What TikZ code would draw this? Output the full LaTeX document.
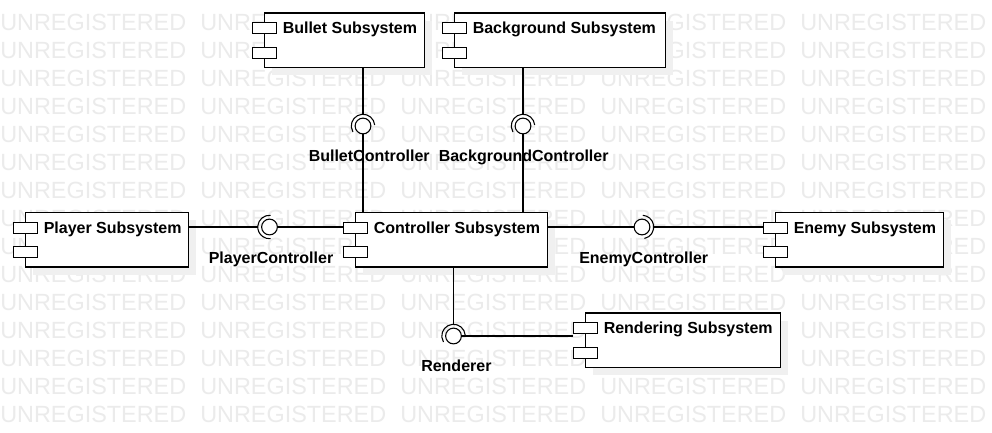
\documentclass[tikz,border=0pt]{standalone}
\usepackage{fontspec}
\setmainfont{Liberation Sans}
\usetikzlibrary{shadows}
\newcommand\mycomp[5]{%
  \node[box, minimum width=#4*0.75pt] (#1) at (#2,-#3) {};
  \node[icon] (#1i1) at ([shift={(0.3,-16)}]#1.north west) {};
  \node[icon] (#1i2) at ([shift={(0.3,-40.5)}]#1.north west) {};
  \node[ctext] (#1t) at ([shift={(18.5,-21.5)}]#1.north west) {#5};
}
\begin{document}
\begin{tikzpicture}[x=0.75pt,y=0.75pt,
  box/.style={draw, fill=white, anchor=north west, inner sep=0pt, minimum height=40.9pt, line width=0.9pt,
    general shadow={fill=black!6, shadow xshift=5.25pt, shadow yshift=-6pt}},
  icon/.style={draw, fill=white, inner sep=0pt, minimum width=18.3pt, minimum height=8.25pt, line width=0.9pt},
  ctext/.style={anchor=base west, inner sep=0pt, font=\fontsize{12}{14}\selectfont\bfseries},
  lbl/.style={anchor=base west, inner sep=0pt, font=\fontsize{12}{14}\selectfont\bfseries},
  wm/.style={anchor=base west, inner sep=0pt, text=black!8, font=\fontsize{17.55}{20}\selectfont},
  ball/.style={circle, draw, fill=white, inner sep=0pt, minimum size=11.8pt, line width=0.8pt},
  conn/.style={line width=0.8pt},
]
\fill[white] (0,0) rectangle (992,-432);
\useasboundingbox (0,0) rectangle (992,-432);
% watermark
\foreach \k in {0,...,14}{\foreach \j in {0,...,4}{%
  \node[wm] (wm\k-\j) at ({200*\j},{-30-28.07*\k}) {UNREGISTERED};}}
% components
\mycomp{bullet}{264}{12.3}{160}{Bullet Subsystem}
\mycomp{backg}{454}{12.3}{211}{Background Subsystem}
\mycomp{player}{25}{211.8}{163}{Player Subsystem}
\mycomp{ctrl}{355}{211.8}{192}{Controller Subsystem}
\mycomp{enemy}{775}{211.8}{168}{Enemy Subsystem}
\mycomp{rend}{585}{312.3}{195}{Rendering Subsystem}
% BulletController
\node[ball] (bcb) at (363,-126) {};
\coordinate (bcs) at ([yshift=8.8pt]bcb.center);
\draw[conn] ([shift={(5:8.8pt)}]bcb.center) arc[start angle=5,end angle=211,radius=8.8pt];
\draw[conn] (bullet.south -| bcs) -- (bcs);
\draw[conn] (bcb.south) -- (ctrl.north -| bcb.south);
\node[lbl] (lbc) at (308.5,-161.7) {BulletController};
% BackgroundController
\node[ball] (gcb) at (523,-126) {};
\coordinate (gcs) at ([yshift=8.8pt]gcb.center);
\draw[conn] ([shift={(5:8.8pt)}]gcb.center) arc[start angle=5,end angle=211,radius=8.8pt];
\draw[conn] (backg.south -| gcs) -- (gcs);
\draw[conn] (gcb.south) -- (ctrl.north -| gcb.south);
\node[lbl] (lgc) at (438.5,-161.7) {BackgroundController};
% PlayerController
\node[ball] (pcb) at (269.5,-227) {};
\coordinate (pcs) at ([xshift=-8.8pt]pcb.center);
\draw[conn] ([shift={(85:8.8pt)}]pcb.center) arc[start angle=85,end angle=275,radius=8.8pt];
\draw[conn] (player.east |- pcs) -- (pcs);
\draw[conn] (pcb.east) -- (ctrli1.west |- pcb.east);
\node[lbl] (lpc) at (208.5,-263.5) {PlayerController};
% EnemyController
\node[ball] (ecb) at (642,-227) {};
\coordinate (ecs) at ([xshift=8.8pt]ecb.center);
\draw[conn] ([shift={(-78:8.8pt)}]ecb.center) arc[start angle=-78,end angle=86,radius=8.8pt];
\draw[conn] (ctrl.east |- ecb.west) -- (ecb.west);
\draw[conn] (ecs) -- (enemyi1.west |- ecs);
\node[lbl] (lec) at (579,-263.5) {EnemyController};
% Renderer
\node[ball] (rcb) at (453.5,-336) {};
\coordinate (rcs) at ([yshift=8.8pt]rcb.center);
\draw[conn] ([shift={(5:8.8pt)}]rcb.center) arc[start angle=5,end angle=211,radius=8.8pt];
\draw[conn] (ctrl.south -| rcs) -- (rcs);
\draw[conn] (rcb.east) -- (rendi1.west |- rcb.east);
\node[lbl] (lr) at (421,-371.7) {Renderer};
\end{tikzpicture}
\end{document}
